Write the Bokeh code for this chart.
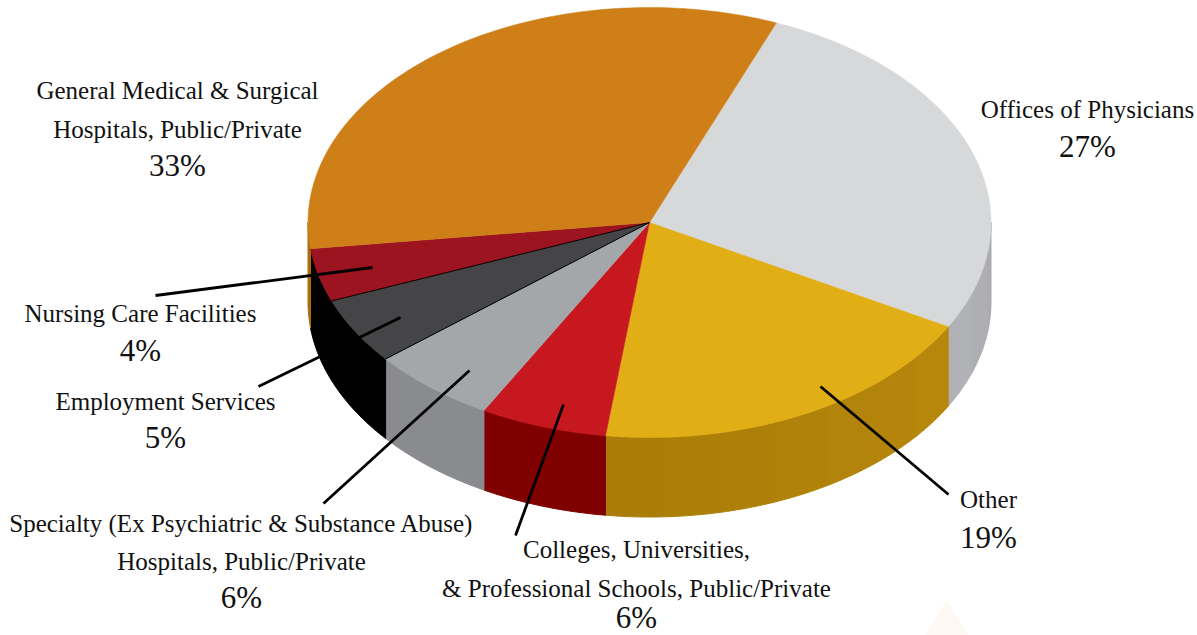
import numpy as np
from bokeh.plotting import figure
from bokeh.models import Range1d
from bokeh.core.properties import value
from bokeh.embed import file_html
from bokeh.resources import INLINE

# ---- data ----
categories = ["Offices of Physicians", "Other",
              "Colleges, Universities, & Professional Schools, Public/Private",
              "Specialty (Ex Psychiatric & Substance Abuse) Hospitals, Public/Private",
              "Employment Services", "Nursing Care Facilities",
              "General Medical & Surgical Hospitals, Public/Private"]
shares = [27, 19, 6, 6, 5, 4, 33]
top_colors = ["#D7D8DA", "#E1AE16", "#C8181F", "#A3A7A9", "#454547", "#9B1420", "#CE7F17"]
wall_from = ["#B3B4B8", "#A97C08", "#800000", "#8A8B8E", "#000000", "#000000", "#A86E10"]
wall_to = ["#A9AAAE", "#B8880C", "#800000", "#8A8B8E", "#000000", "#000000", "#A86E10"]

# ---- layout of the projected disc ----
CX, CY, RX, RY, DEPTH = 649, 222, 341.5, 215, 79.5
START = 68.2

labels = [
    (["General Medical & Surgical", "Hospitals, Public/Private"], "33%", 177, [90, 129], 165),
    (["Offices of Physicians"], "27%", 1087, [109], 146),
    (["Other"], "19%", 988, [499], 537),
    (["Colleges, Universities,", "& Professional Schools, Public/Private"], "6%", 636, [549, 588], 617),
    (["Specialty (Ex Psychiatric & Substance Abuse)", "Hospitals, Public/Private"], "6%", 241, [523, 561], 597),
    (["Employment Services"], "5%", 165, [401], 437),
    (["Nursing Care Facilities"], "4%", 140, [313], 350),
]
leaders = [
    ((155, 295), (372, 267)),
    ((258, 386), (400, 317)),
    ((323, 503), (469, 370)),
    ((515, 535), (563, 404)),
    ((948, 494), (820, 386)),
]


def pt(t):
    r = np.radians(t)
    return CX + RX * np.cos(r), CY - RY * np.sin(r)


def hex_mix(a, b, f):
    ca = [int(a[i:i + 2], 16) for i in (1, 3, 5)]
    cb = [int(b[i:i + 2], 16) for i in (1, 3, 5)]
    return "#%02X%02X%02X" % tuple(round(x + (y - x) * f) for x, y in zip(ca, cb))


p = figure(width=1197, height=635, output_backend="svg", toolbar_location=None,
           x_range=Range1d(0, 1197), y_range=Range1d(635, 0),
           min_border=0, outline_line_color=None)
p.axis.visible = False
p.grid.visible = False
p.background_fill_color = "white"

# faint watermark triangle at the bottom edge
p.patch([925, 946, 968], [635, 600, 635], fill_color="#FDF8F2", line_color=None)

# slice angles from the shares
edges = START - np.cumsum([0] + shares) * 3.6

# side walls: only the front half of the disc shows
for i in range(len(shares)):
    a, b = min(edges[i], 0), max(edges[i + 1], -180)
    if a <= b:
        continue
    n = max(1, int((a - b) // 9))
    steps = np.linspace(a, b, n + 1)
    for k in range(n):
        ts = np.linspace(steps[k], steps[k + 1], 12)
        xs, ys = pt(ts)
        col = hex_mix(wall_to[i], wall_from[i], (k + .5) / n)
        p.patch(np.r_[xs, xs[::-1]], np.r_[ys, ys[::-1] + DEPTH],
                fill_color=col, line_color=col, line_width=1)

# top faces
for i in range(len(shares)):
    ts = np.linspace(edges[i], edges[i + 1], 90)
    xs, ys = pt(ts)
    p.patch(np.r_[CX, xs], np.r_[CY, ys], fill_color=top_colors[i], line_color=top_colors[i],
            line_width=0.5)

# black hairlines around the dark slice
for t in (edges[4], edges[5]):
    x, y = pt(t)
    p.line([CX, x], [CY, y], line_color="black", line_width=1)

# leader lines
for (x0, y0), (x1, y1) in leaders:
    p.line([x0, x1], [y0, y1], line_color="black", line_width=2.8)

# labels
FONT = value("Liberation Serif")
for lines, pct, x, ys, ypct in labels:
    for line, y in zip(lines, ys):
        p.text([x], [y], text=[line], text_font=FONT, text_font_size="25px",
               text_align="center", text_baseline="middle", text_color="#111111")
    p.text([x], [ypct], text=[pct], text_font=FONT, text_font_size="31px",
           text_align="center", text_baseline="middle", text_color="#111111")

open("out.html", "w").write(file_html(p, INLINE))
